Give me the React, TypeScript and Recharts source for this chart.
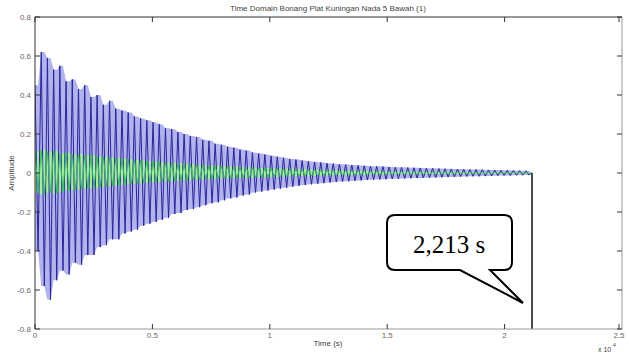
import React from "react";
import { ComposedChart, XAxis, YAxis, Line, Area, ReferenceLine } from "recharts";

// time axis is in samples x 10^4, one peak/trough every half period
const HALF_PERIOD = 0.01323;
const xTicks = [0, 0.5, 1, 1.5, 2, 2.5];
const yTicks = [-0.8, -0.6, -0.4, -0.2, 0, 0.2, 0.4, 0.6, 0.8];

// peaks (outer, blue trace)
const blueHigh = [
  0.45, 0.62, 0.59, 0.53, 0.55, 0.47, 0.48, 0.43, 0.45, 0.39,
  0.40, 0.35, 0.37, 0.33, 0.32, 0.31, 0.29, 0.28, 0.27, 0.26,
  0.25, 0.23, 0.225, 0.21, 0.20, 0.19, 0.185, 0.17, 0.165, 0.15,
  0.145, 0.135, 0.13, 0.12, 0.115, 0.105, 0.10, 0.095, 0.088, 0.083,
  0.078, 0.072, 0.069, 0.064, 0.060, 0.057, 0.054, 0.050, 0.048, 0.045,
  0.043, 0.041, 0.039, 0.037, 0.035, 0.034, 0.033, 0.031, 0.030, 0.029,
  0.028, 0.027, 0.026, 0.025, 0.024, 0.023, 0.022, 0.021, 0.020, 0.019,
  0.018, 0.018, 0.017, 0.016, 0.015, 0.014, 0.014, 0.013, 0.012, 0.011, 0.0,
];
const blueLow = [
  -0.40, -0.58, -0.65, -0.55, -0.50, -0.52, -0.46, -0.47, -0.42, -0.42,
  -0.38, -0.37, -0.34, -0.34, -0.31, -0.30, -0.29, -0.27, -0.26, -0.25,
  -0.24, -0.23, -0.21, -0.205, -0.19, -0.185, -0.175, -0.165, -0.155, -0.15,
  -0.14, -0.13, -0.125, -0.115, -0.11, -0.10, -0.095, -0.09, -0.085, -0.08,
  -0.075, -0.07, -0.066, -0.062, -0.058, -0.055, -0.052, -0.049, -0.046, -0.044,
  -0.042, -0.040, -0.038, -0.036, -0.034, -0.033, -0.032, -0.030, -0.029, -0.028,
  -0.027, -0.026, -0.025, -0.024, -0.023, -0.022, -0.021, -0.020, -0.019, -0.018,
  -0.017, -0.017, -0.016, -0.015, -0.014, -0.013, -0.013, -0.012, -0.011, -0.010,
];

// inner, green trace
const greenHigh = [
  0.11, 0.12, 0.11, 0.115, 0.10, 0.105, 0.095, 0.10, 0.09, 0.092,
  0.085, 0.086, 0.08, 0.078, 0.074, 0.072, 0.068, 0.066, 0.062, 0.060,
  0.057, 0.055, 0.052, 0.050, 0.048, 0.046, 0.044, 0.042, 0.040, 0.038,
  0.036, 0.034, 0.032, 0.031, 0.030, 0.028, 0.027, 0.026, 0.025, 0.024,
  0.023, 0.022, 0.021, 0.020, 0.019, 0.018, 0.017, 0.016, 0.015, 0.014,
  0.013, 0.013, 0.012, 0.011, 0.011, 0.010, 0.010, 0.009, 0.009, 0.008,
  0.008, 0.007, 0.007, 0.007, 0.006, 0.006, 0.006, 0.005, 0.005, 0.005,
  0.005, 0.004, 0.004, 0.004, 0.004, 0.003, 0.003, 0.003, 0.003, 0.002, 0.0,
];
const greenLow = [
  -0.10, -0.11, -0.10, -0.105, -0.095, -0.09, -0.088, -0.085, -0.08, -0.078,
  -0.075, -0.07, -0.068, -0.064, -0.06, -0.058, -0.055, -0.052, -0.05, -0.048,
  -0.046, -0.044, -0.042, -0.040, -0.038, -0.036, -0.034, -0.033, -0.032, -0.030,
  -0.029, -0.028, -0.027, -0.026, -0.025, -0.024, -0.023, -0.022, -0.021, -0.020,
  -0.019, -0.018, -0.017, -0.016, -0.015, -0.015, -0.014, -0.013, -0.012, -0.012,
  -0.011, -0.011, -0.010, -0.010, -0.009, -0.009, -0.008, -0.008, -0.007, -0.007,
  -0.007, -0.006, -0.006, -0.006, -0.005, -0.005, -0.005, -0.004, -0.004, -0.004,
  -0.004, -0.003, -0.003, -0.003, -0.003, -0.003, -0.002, -0.002, -0.002, -0.002,
];

const data = [];
for (let i = 0; i < blueHigh.length * 2 - 1; i++) {
  const k = Math.floor(i / 2);
  const up = i % 2 === 0;
  const lo = k < blueLow.length ? blueLow[k] : 0;
  const glo = k < greenLow.length ? greenLow[k] : 0;
  data.push({
    t: i * HALF_PERIOD,
    blue: up ? blueHigh[k] : blueLow[k],
    band: [lo, blueHigh[k]],
    green: up ? greenHigh[k] : greenLow[k],
    gband: [glo, greenHigh[k]],
  });
}
const END_T = data[data.length - 1].t;

const TOP = 17, BOTTOM = 329, LEFT = 35, RIGHT = 622;
const font = "'Liberation Sans', Arial, sans-serif";

const XTick = (p: any) => {
  const x = p.x;
  return (
    <g>
      <line x1={x} y1={BOTTOM} x2={x} y2={BOTTOM - 5} stroke="#333" />
      <line x1={x} y1={TOP} x2={x} y2={TOP + 5} stroke="#333" />
      <text x={x} y={338} textAnchor="middle" fontSize={8} fill="#666" fontFamily={font}>{p.payload.value}</text>
    </g>
  );
};

const YTick = (p: any) => {
  const y = p.y;
  return (
    <g>
      <line x1={LEFT} y1={y} x2={LEFT + 5} y2={y} stroke="#333" />
      <line x1={RIGHT} y1={y} x2={RIGHT - 5} y2={y} stroke="#333" />
      <text x={31} y={y + 3} textAnchor="end" fontSize={8} fill="#666" fontFamily={font}>{p.payload.value}</text>
    </g>
  );
};

export default function App() {
  return (
    <div style={{ position: "absolute", left: 0, top: 0, width: 629, height: 355, background: "#fff" }}>
      <ComposedChart width={629} height={355} data={data} margin={{ top: 17, right: 7, bottom: 0, left: 0 }}>
        <XAxis type="number" dataKey="t" domain={[0, 2.5]} ticks={xTicks} height={26}
          axisLine={{ stroke: "#999" }} tickLine={false} tick={XTick} allowDataOverflow />
        <YAxis type="number" domain={[-0.8, 0.8]} ticks={yTicks} width={35}
          axisLine={{ stroke: "#333" }} tickLine={false} tick={YTick} allowDataOverflow />
        <ReferenceLine y={0.8} stroke="#333" />
        <ReferenceLine x={2.5} stroke="#999" />
        <Area type="linear" dataKey="band" fill="#b2b2ec" fillOpacity={1} stroke="none" isAnimationActive={false} />
        <Line type="linear" dataKey="blue" stroke="#26269a" strokeWidth={1} dot={false} isAnimationActive={false} />
        <Area type="linear" dataKey="gband" fill="#a4eca0" fillOpacity={1} stroke="none" isAnimationActive={false} />
        <Line type="linear" dataKey="green" stroke="#3cb86a" strokeWidth={1} dot={false} isAnimationActive={false} />
        <ReferenceLine segment={[{ x: END_T, y: 0 }, { x: END_T, y: -0.8 }]} stroke="#111" strokeWidth={1.5} />
      </ComposedChart>
      <svg width={629} height={355} style={{ position: "absolute", left: 0, top: 0, pointerEvents: "none" }}>
        <text x={328} y={11} textAnchor="middle" fontSize={8} fill="#444" fontFamily={font}>
          Time Domain Bonang Plat Kuningan Nada 5 Bawah (1)
        </text>
        <text x={0} y={0} transform="translate(14,173) rotate(-90)" textAnchor="middle" fontSize={8} fill="#444" fontFamily={font}>
          Amplitude
        </text>
        <text x={328} y={346} textAnchor="middle" fontSize={8} fill="#444" fontFamily={font}>Time (s)</text>
        <text x={598} y={352} fontSize={7} fill="#444" fontFamily={font}>x 10</text>
        <text x={613} y={347} fontSize={5} fill="#444" fontFamily={font}>4</text>
        <path d="M 395 215 L 504 215 Q 512 215 512 223 L 512 262 Q 512 270 504 270 L 490 270 L 523 303 L 460 270 L 395 270 Q 387 270 387 262 L 387 223 Q 387 215 395 215 Z"
          fill="#fff" stroke="#000" strokeWidth={2} strokeLinejoin="miter" />
        <text x={449} y={253} textAnchor="middle" fontSize={25} fill="#000" fontFamily="'Liberation Serif', 'Times New Roman', serif">2,213 s</text>
      </svg>
    </div>
  );
}
